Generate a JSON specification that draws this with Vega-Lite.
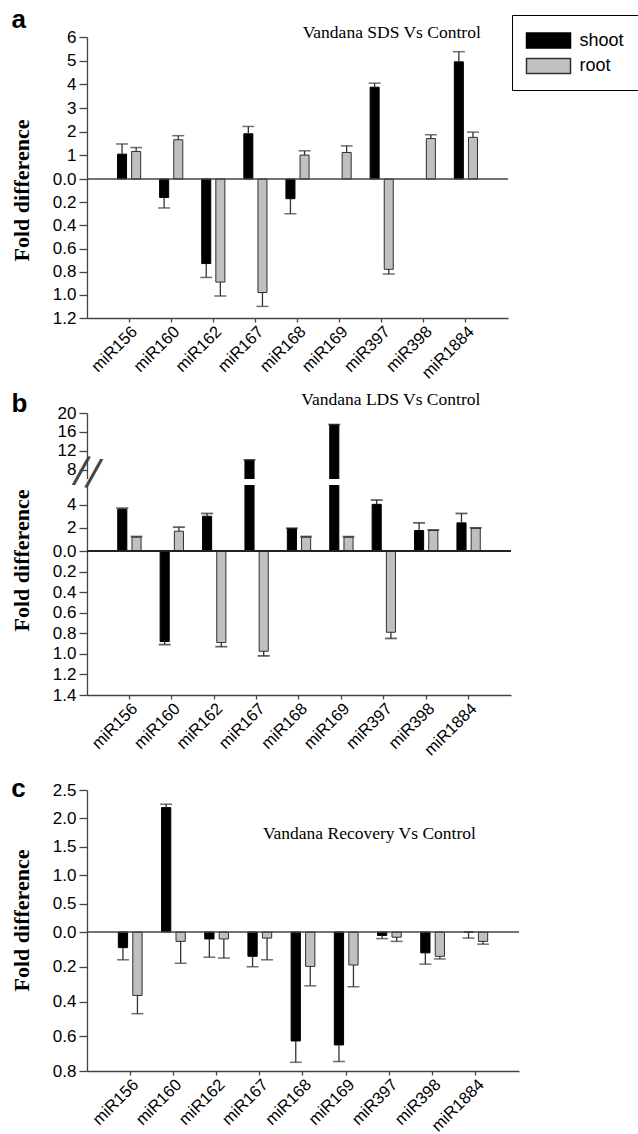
{
  "$schema": "https://vega.github.io/schema/vega-lite/v6.json",
  "background": "white",
  "padding": {"left": 9, "top": 7, "right": 0, "bottom": 0},
  "bounds": "flush",
  "spacing": 95,
  "resolve": {"scale": {"x": "independent", "y": "independent", "color": "independent", "stroke": "independent", "xOffset": "independent"}},
  "datasets": {
    "a": [
      {"gene": "miR156", "tissue": "shoot", "value": 1.05, "cap": 1.48},
      {"gene": "miR156", "tissue": "root", "value": 1.16, "cap": 1.33},
      {"gene": "miR160", "tissue": "shoot", "value": -0.16, "cap": -0.25},
      {"gene": "miR160", "tissue": "root", "value": 1.66, "cap": 1.83},
      {"gene": "miR162", "tissue": "shoot", "value": -0.73, "cap": -0.85},
      {"gene": "miR162", "tissue": "root", "value": -0.89, "cap": -1.01},
      {"gene": "miR167", "tissue": "shoot", "value": 1.91, "cap": 2.22},
      {"gene": "miR167", "tissue": "root", "value": -0.98, "cap": -1.1},
      {"gene": "miR168", "tissue": "shoot", "value": -0.17, "cap": -0.3},
      {"gene": "miR168", "tissue": "root", "value": 1.01, "cap": 1.19},
      {"gene": "miR169", "tissue": "root", "value": 1.12, "cap": 1.4},
      {"gene": "miR397", "tissue": "shoot", "value": 3.88, "cap": 4.05},
      {"gene": "miR397", "tissue": "root", "value": -0.78, "cap": -0.82},
      {"gene": "miR398", "tissue": "root", "value": 1.71, "cap": 1.87},
      {"gene": "miR1884", "tissue": "shoot", "value": 4.95, "cap": 5.38},
      {"gene": "miR1884", "tissue": "root", "value": 1.76, "cap": 1.98}
    ],
    "b": [
      {"gene": "miR156", "tissue": "shoot", "value": 3.6, "cap": 3.7},
      {"gene": "miR156", "tissue": "root", "value": 1.2, "cap": 1.25},
      {"gene": "miR160", "tissue": "shoot", "value": -0.88, "cap": -0.91},
      {"gene": "miR160", "tissue": "root", "value": 1.71, "cap": 2.06},
      {"gene": "miR162", "tissue": "shoot", "value": 3.0, "cap": 3.24},
      {"gene": "miR162", "tissue": "root", "value": -0.89, "cap": -0.93},
      {"gene": "miR167", "tissue": "shoot", "value": 10.0, "cap": 10.05},
      {"gene": "miR167", "tissue": "root", "value": -0.975, "cap": -1.02},
      {"gene": "miR168", "tissue": "shoot", "value": 1.94, "cap": 1.97},
      {"gene": "miR168", "tissue": "root", "value": 1.2, "cap": 1.25},
      {"gene": "miR169", "tissue": "shoot", "value": 17.5, "cap": 17.55},
      {"gene": "miR169", "tissue": "root", "value": 1.2, "cap": 1.25},
      {"gene": "miR397", "tissue": "shoot", "value": 4.03, "cap": 4.4},
      {"gene": "miR397", "tissue": "root", "value": -0.79, "cap": -0.85},
      {"gene": "miR398", "tissue": "shoot", "value": 1.77, "cap": 2.43},
      {"gene": "miR398", "tissue": "root", "value": 1.77, "cap": 1.82},
      {"gene": "miR1884", "tissue": "shoot", "value": 2.43, "cap": 3.24},
      {"gene": "miR1884", "tissue": "root", "value": 1.97, "cap": 2.0}
    ],
    "c": [
      {"gene": "miR156", "tissue": "shoot", "value": -0.09, "cap": -0.16},
      {"gene": "miR156", "tissue": "root", "value": -0.365, "cap": -0.47},
      {"gene": "miR160", "tissue": "shoot", "value": 2.19, "cap": 2.25},
      {"gene": "miR160", "tissue": "root", "value": -0.054, "cap": -0.18},
      {"gene": "miR162", "tissue": "shoot", "value": -0.04, "cap": -0.145},
      {"gene": "miR162", "tissue": "root", "value": -0.04, "cap": -0.15},
      {"gene": "miR167", "tissue": "shoot", "value": -0.14, "cap": -0.2},
      {"gene": "miR167", "tissue": "root", "value": -0.035, "cap": -0.16},
      {"gene": "miR168", "tissue": "shoot", "value": -0.627, "cap": -0.75},
      {"gene": "miR168", "tissue": "root", "value": -0.198, "cap": -0.31},
      {"gene": "miR169", "tissue": "shoot", "value": -0.65, "cap": -0.745},
      {"gene": "miR169", "tissue": "root", "value": -0.19, "cap": -0.315},
      {"gene": "miR397", "tissue": "shoot", "value": -0.02, "cap": -0.038},
      {"gene": "miR397", "tissue": "root", "value": -0.03, "cap": -0.054},
      {"gene": "miR398", "tissue": "shoot", "value": -0.12, "cap": -0.185},
      {"gene": "miR398", "tissue": "root", "value": -0.14, "cap": -0.155},
      {"gene": "miR1884", "tissue": "shoot", "value": 0, "cap": -0.035},
      {"gene": "miR1884", "tissue": "root", "value": -0.054, "cap": -0.07}
    ]
  },
  "vconcat": [
    {
      "width": 421,
      "height": 281,
      "data": {"name": "a"},
      "layer": [
        {
          "mark": {"type": "bar", "strokeWidth": 1},
          "encoding": {
            "x": {"field": "gene", "type": "nominal", "sort": null, "title": null,
                  "scale": {"domain": ["miR156","miR160","miR162","miR167","miR168","miR169","miR397","miR398","miR1884"], "paddingInner": 0.45, "paddingOuter": 0.725},
                  "axis": {"labelOverlap": false}},
            "xOffset": {"field": "tissue", "type": "nominal", "scale": {"domain": ["shoot", "root"], "paddingInner": 0.36, "paddingOuter": 0}},
            "y": {"field": "value", "type": "quantitative",
                  "scale": {"domain": [-1.2, 0, 6], "range": [281, 142, 0], "nice": false, "zero": false},
                  "axis": {"title": "Fold difference", "titleY": 153, "labelOverlap": false, "tickCount": 40, "values": [-1.2, -1, -0.8, -0.6, -0.4, -0.2, 0, 1, 2, 3, 4, 5, 6],
                           "labelExpr": "datum.value > 0 ? format(datum.value, 'd') : format(abs(datum.value), '.1f')"}},
            "y2": {"datum": 0},
            "color": {"field": "tissue", "type": "nominal",
                      "scale": {"domain": ["shoot", "root"], "range": ["black", "#c0c0c0"]},
                      "legend": {"orient": "none", "legendX": 425, "legendY": -22, "title": null,
                                 "symbolType": "M-2,-0.68L2,-0.68L2,0.68L-2,0.68Z", "symbolSize": 484,
                                 "symbolOffset": 11, "labelOffset": 19, "labelFontSize": 18, "labelFont": "Liberation Sans", "labelColor": "black",
                                 "padding": 13.5, "rowPadding": 2.5, "strokeColor": "black", "fillColor": "white", "symbolStrokeWidth": 1.5}},
            "stroke": {"field": "tissue", "type": "nominal",
                       "scale": {"domain": ["shoot", "root"], "range": ["black", "#303030"]}, "legend": null}
          }
        },
        {
          "mark": {"type": "rule", "color": "#333", "strokeWidth": 1.3},
          "encoding": {
            "x": {"field": "gene", "type": "nominal"},
            "xOffset": {"field": "tissue", "type": "nominal"},
            "y": {"field": "value", "type": "quantitative"},
            "y2": {"field": "cap"}
          }
        },
        {
          "mark": {"type": "tick", "color": "#333", "thickness": 1.5, "size": 12, "orient": "horizontal"},
          "encoding": {
            "x": {"field": "gene", "type": "nominal"},
            "xOffset": {"field": "tissue", "type": "nominal"},
            "y": {"field": "cap", "type": "quantitative"}
          }
        },
        {
          "data": {"values": [{}]},
          "mark": {"type": "rule", "color": "#444", "strokeWidth": 1.3},
          "encoding": {"y": {"datum": 0}}
        },
        {
          "data": {"values": [{"label": "Vandana SDS Vs Control"}]},
          "mark": {"type": "text", "font": "Liberation Serif", "fontSize": 17.5, "color": "black", "align": "center", "baseline": "middle", "dx": 10, "dy": -4},
          "encoding": {"x": {"datum": "miR397"}, "y": {"datum": 6}, "text": {"field": "label"}}
        },
        {
          "data": {"values": [{"label": "a"}]},
          "mark": {"type": "text", "font": "Liberation Sans", "fontWeight": "bold", "fontSize": 26, "color": "black", "align": "left", "baseline": "alphabetic", "dx": -117.5, "dy": -9},
          "encoding": {"x": {"datum": "miR156"}, "y": {"datum": 6}, "text": {"field": "label"}}
        }
      ]
    },
    {
      "width": 424,
      "height": 282,
      "data": {"name": "b"},
      "layer": [
        {
          "mark": {"type": "bar", "strokeWidth": 1},
          "encoding": {
            "x": {"field": "gene", "type": "nominal", "sort": null, "title": null,
                  "scale": {"domain": ["miR156","miR160","miR162","miR167","miR168","miR169","miR397","miR398","miR1884"], "paddingInner": 0.45, "paddingOuter": 0.725},
                  "axis": {"labelOverlap": false}},
            "xOffset": {"field": "tissue", "type": "nominal", "scale": {"domain": ["shoot", "root"], "paddingInner": 0.36, "paddingOuter": 0}},
            "y": {"field": "value", "type": "quantitative",
                  "scale": {"domain": [-1.4, 0, 5.7, 6, 20], "range": [282, 138, 72, 66, 0], "nice": false, "zero": false},
                  "axis": {"title": "Fold difference", "titleY": 147, "zindex": 0, "labelOverlap": false, "tickCount": 40, "values": [-1.4, -1.2, -1, -0.8, -0.6, -0.4, -0.2, 0, 2, 4, 8, 12, 16, 20],
                           "labelExpr": "datum.value > 0 ? format(datum.value, 'd') : format(abs(datum.value), '.1f')"}},
            "y2": {"datum": 0},
            "color": {"field": "tissue", "type": "nominal", "scale": {"domain": ["shoot", "root"], "range": ["black", "#c0c0c0"]}, "legend": null},
            "stroke": {"field": "tissue", "type": "nominal", "scale": {"domain": ["shoot", "root"], "range": ["black", "#303030"]}, "legend": null}
          }
        },
        {
          "mark": {"type": "rule", "color": "#333", "strokeWidth": 1.3},
          "encoding": {
            "x": {"field": "gene", "type": "nominal"},
            "xOffset": {"field": "tissue", "type": "nominal"},
            "y": {"field": "value", "type": "quantitative"},
            "y2": {"field": "cap"}
          }
        },
        {
          "mark": {"type": "tick", "color": "#222", "thickness": 1.8, "size": 12, "orient": "horizontal"},
          "encoding": {
            "x": {"field": "gene", "type": "nominal"},
            "xOffset": {"field": "tissue", "type": "nominal"},
            "y": {"field": "cap", "type": "quantitative"}
          }
        },
        {
          "data": {"values": [{}]},
          "mark": {"type": "rect", "color": "white"},
          "encoding": {"y": {"datum": 5.7}, "y2": {"datum": 6}}
        },
        {
          "data": {"values": [{}]},
          "mark": {"type": "rule", "color": "#222", "strokeWidth": 2},
          "encoding": {"y": {"datum": 0}}
        },
        {
          "data": {"values": [{"label": "//"}]},
          "mark": {"type": "text", "font": "DejaVu Sans", "fontSize": 38, "color": "#444", "align": "center", "baseline": "middle", "dx": -43, "dy": 0, "angle": 12},
          "encoding": {"x": {"datum": "miR156"}, "y": {"datum": 5.85}, "text": {"field": "label"}}
        },
        {
          "data": {"values": [{"label": "Vandana LDS Vs Control"}]},
          "mark": {"type": "text", "font": "Liberation Serif", "fontSize": 17.5, "color": "black", "align": "center", "baseline": "middle", "dx": 7, "dy": -13},
          "encoding": {"x": {"datum": "miR397"}, "y": {"datum": 20}, "text": {"field": "label"}}
        },
        {
          "data": {"values": [{"label": "b"}]},
          "mark": {"type": "text", "font": "Liberation Sans", "fontWeight": "bold", "fontSize": 26, "color": "black", "align": "left", "baseline": "alphabetic", "dx": -118, "dy": -1},
          "encoding": {"x": {"datum": "miR156"}, "y": {"datum": 20}, "text": {"field": "label"}}
        }
      ]
    },
    {
      "width": 432,
      "height": 281,
      "data": {"name": "c"},
      "layer": [
        {
          "mark": {"type": "bar", "strokeWidth": 1},
          "encoding": {
            "x": {"field": "gene", "type": "nominal", "sort": null, "title": null,
                  "scale": {"domain": ["miR156","miR160","miR162","miR167","miR168","miR169","miR397","miR398","miR1884"], "paddingInner": 0.45, "paddingOuter": 0.725},
                  "axis": {"labelOverlap": false}},
            "xOffset": {"field": "tissue", "type": "nominal", "scale": {"domain": ["shoot", "root"], "paddingInner": 0.36, "paddingOuter": 0}},
            "y": {"field": "value", "type": "quantitative",
                  "scale": {"domain": [-0.8, 0, 2.5], "range": [281, 142, 0], "nice": false, "zero": false},
                  "axis": {"title": "Fold difference", "titleY": 130, "labelOverlap": false, "tickCount": 40, "values": [-0.8, -0.6, -0.4, -0.2, 0, 0.5, 1, 1.5, 2, 2.5],
                           "labelExpr": "format(abs(datum.value), '.1f')"}},
            "y2": {"datum": 0},
            "color": {"field": "tissue", "type": "nominal", "scale": {"domain": ["shoot", "root"], "range": ["black", "#c0c0c0"]}, "legend": null},
            "stroke": {"field": "tissue", "type": "nominal", "scale": {"domain": ["shoot", "root"], "range": ["black", "#303030"]}, "legend": null}
          }
        },
        {
          "mark": {"type": "rule", "color": "#333", "strokeWidth": 1.3},
          "encoding": {
            "x": {"field": "gene", "type": "nominal"},
            "xOffset": {"field": "tissue", "type": "nominal"},
            "y": {"field": "value", "type": "quantitative"},
            "y2": {"field": "cap"}
          }
        },
        {
          "mark": {"type": "tick", "color": "#333", "thickness": 1.5, "size": 12, "orient": "horizontal"},
          "encoding": {
            "x": {"field": "gene", "type": "nominal"},
            "xOffset": {"field": "tissue", "type": "nominal"},
            "y": {"field": "cap", "type": "quantitative"}
          }
        },
        {
          "data": {"values": [{}]},
          "mark": {"type": "rule", "color": "#444", "strokeWidth": 1.3},
          "encoding": {"y": {"datum": 0}}
        },
        {
          "data": {"values": [{"label": "Vandana Recovery Vs Control"}]},
          "mark": {"type": "text", "font": "Liberation Serif", "fontSize": 17.5, "color": "black", "align": "center", "baseline": "middle", "dx": -20, "dy": 1},
          "encoding": {"x": {"datum": "miR397"}, "y": {"datum": 1.75}, "text": {"field": "label"}}
        },
        {
          "data": {"values": [{"label": "c"}]},
          "mark": {"type": "text", "font": "Liberation Sans", "fontWeight": "bold", "fontSize": 26, "color": "black", "align": "left", "baseline": "alphabetic", "dx": -119, "dy": 7},
          "encoding": {"x": {"datum": "miR156"}, "y": {"datum": 2.5}, "text": {"field": "label"}}
        }
      ]
    }
  ],
  "config": {
    "view": {"stroke": null},
    "font": "Liberation Sans",
    "axis": {"domainColor": "#444", "tickColor": "#444", "labelColor": "black", "grid": false, "labelFont": "Liberation Sans", "domainWidth": 1.3, "tickWidth": 1.3},
    "axisX": {"labelFontSize": 16.5, "labelAngle": -45, "tickSize": 4, "labelPadding": 1},
    "axisY": {"labelFontSize": 17, "tickSize": 8, "labelPadding": 3, "titleFont": "Liberation Serif", "titleFontSize": 22, "titleFontWeight": "bold", "titleColor": "black", "titleX": -59, "titleBaseline": "alphabetic", "titleAlign": "center", "titleAngle": -90}
  }
}
